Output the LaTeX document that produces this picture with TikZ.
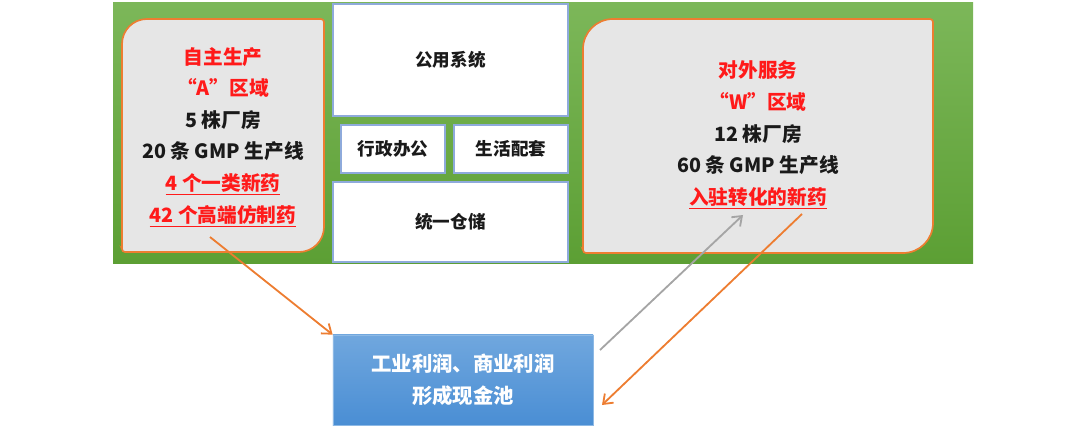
\documentclass[tikz,border=0pt]{standalone}
\usepackage{fontspec}
\setmainfont{Noto Sans CJK SC}
\usetikzlibrary{arrows.meta, positioning}

\definecolor{greenlight}{HTML}{7CB759}
\definecolor{greendark}{HTML}{5C9F34}
\definecolor{zonefill}{HTML}{E6E6E6}
\definecolor{zoneedge}{HTML}{ED7D31}
\definecolor{boxedge}{HTML}{8EAADB}
\definecolor{pooltop}{HTML}{70A7DE}
\definecolor{poolbot}{HTML}{4A8ED4}
\definecolor{hotred}{HTML}{FF1A1A}
\definecolor{textdark}{HTML}{1A1A1A}
\definecolor{flowgray}{HTML}{A5A5A5}

\newcommand{\hot}[1]{\textcolor{hotred}{#1}}
\newcommand{\hotline}[1]{\textcolor{hotred}{\underline{#1}}}

\begin{document}
\begin{tikzpicture}[
    x=0.025cm, y=0.025cm,
    box/.style={rectangle, draw=boxedge, line width=1pt, fill=white, text=textdark, font=\bfseries\fontsize{12.5}{15}\selectfont},
    zone/.style={draw=zoneedge, line width=1.2pt, fill=zonefill},
    zonetext/.style={align=center, text=textdark, font=\bfseries\fontsize{14}{22.5}\selectfont},
    pool/.style={rectangle, draw=pooltop!80!white, line width=0.5pt, top color=pooltop, bottom color=poolbot, text=white, align=center, font=\bfseries\fontsize{14.5}{22.8}\selectfont},
    arrow/.style={line width=1.3pt, -{Straight Barb[length=6pt, width=9pt]}}
]
\useasboundingbox (0,0) rectangle (1080,429);

% green site
\shade[top color=greenlight, bottom color=greendark] (113,166) rectangle (973,426);

% A and W zones
\draw[zone] (122,180) -- (122,385) arc[start angle=180, end angle=90, radius=0.625cm]
    -- (321,410) arc[start angle=90, end angle=0, radius=0.075cm]
    -- (324,202) arc[start angle=0, end angle=-90, radius=0.625cm]
    -- (125,177) arc[start angle=270, end angle=180, radius=0.075cm] -- cycle;
\draw[zone] (583,179) -- (583,380) arc[start angle=180, end angle=90, radius=0.75cm]
    -- (930,410) arc[start angle=90, end angle=0, radius=0.075cm]
    -- (933,206) arc[start angle=0, end angle=-90, radius=0.75cm]
    -- (586,176) arc[start angle=270, end angle=180, radius=0.075cm] -- cycle;

\node (atext) [zonetext] at (223,292) {\hot{自主生产}\\\hot{“A”区域}\\5 株厂房\\20 条 GMP 生产线\\\hotline{4 个一类新药}\\\hotline{42 个高端仿制药}};
\node (wtext) [zonetext] at (758,294) {\hot{对外服务}\\\hot{“W”区域}\\12 株厂房\\60 条 GMP 生产线\\\hotline{入驻转化的新药}};

% shared blocks
\node (utility) [box, minimum width=5.875cm, minimum height=2.8cm] at (450.5,369) {公用系统};
\node (office) [box, minimum width=2.6cm, minimum height=1.2cm] at (393,280) {行政办公};
\node (living) [box, minimum width=2.85cm, minimum height=1.2cm] at (511,280) {生活配套};
\node (storage) [box, minimum width=5.875cm, minimum height=2cm] at (450.5,207) {统一仓储};

\node (cash) [pool, minimum width=6.5cm, minimum height=2.25cm] at (463,49) {工业利润、商业利润\\形成现金池};

\coordinate (afoot) at (210,192);
\coordinate (wfoot) at (743,214);
\coordinate (wout) at (802,215);
\coordinate (cashout) at (600,79);
\coordinate (cashin) at (602,24);

\draw [arrow, zoneedge] (afoot) -- (cash.north west);
\draw [arrow, flowgray] (cashout) -- (wfoot);
\draw [arrow, zoneedge] (wout) -- (cashin);
\end{tikzpicture}
\end{document}
